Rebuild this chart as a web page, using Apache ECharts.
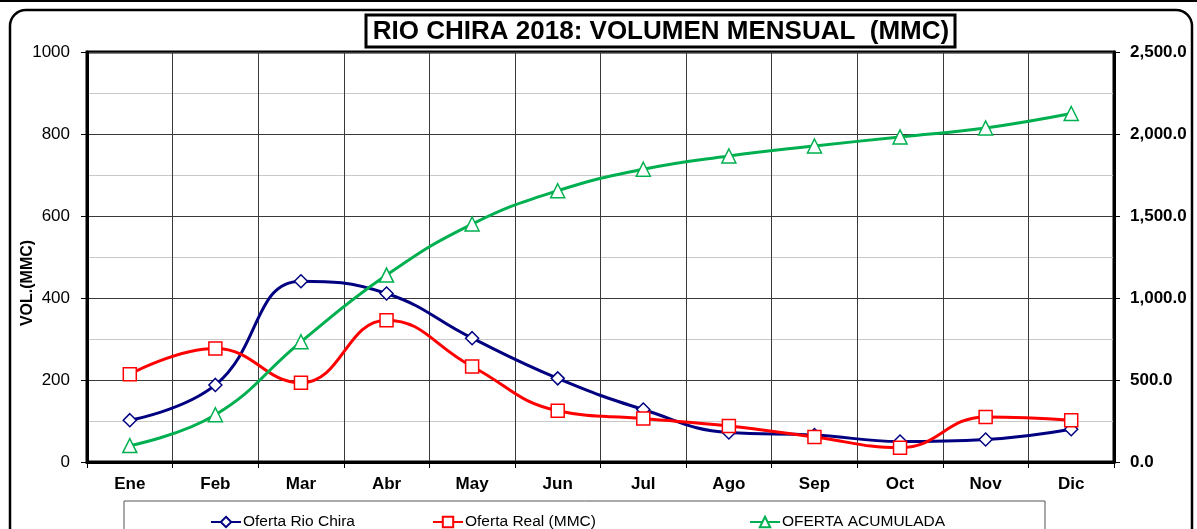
<!DOCTYPE html>
<html>
<head>
<meta charset="utf-8">
<script src="https://cdn.jsdelivr.net/npm/echarts@6/dist/echarts.min.js"></script>
<style>
  html, body { margin: 0; padding: 0; background: #fff; }
  #chart { width: 1197px; height: 529px; }
</style>
</head>
<body>
<div id="chart"></div>
<script>
const meses = ['Ene','Feb','Mar','Abr','May','Jun','Jul','Ago','Sep','Oct','Nov','Dic'];
const ofertaRio = [102, 188, 441, 411, 302, 204, 128, 72, 66, 50, 55, 80];
const ofertaReal = [214, 277, 193, 346, 233, 125, 106, 88, 61, 35, 110, 102];
const ofertaAcum = [100, 288, 733, 1140, 1451, 1654, 1785, 1866, 1927, 1982, 2037, 2125];

const font = '"Liberation Sans", Arial, sans-serif';

const chart = echarts.init(document.getElementById('chart'));

function leyenda(nombre, x) {
    return {
        data: [nombre], left: x, top: 509, itemWidth: 30, itemHeight: 13,
        textStyle: { fontFamily: font, fontSize: 15.5, color: '#000', padding: [0, 0, 0, -3] }
    };
}

chart.setOption({
    animation: false,
    textStyle: { fontFamily: font },
    graphic: [
        { type: 'line', shape: { x1: 0, y1: 1, x2: 1197, y2: 1 }, style: { stroke: '#000', lineWidth: 2 } },
        { type: 'rect', shape: { x: 10, y: 10, width: 1182, height: 600, r: 16 }, style: { fill: 'none', stroke: '#000', lineWidth: 2.5 }, z: -1 },
        { type: 'rect', shape: { x: 366, y: 15, width: 589, height: 32 }, style: { fill: '#fff', stroke: '#000', lineWidth: 3 } },
        { type: 'text', x: 661, y: 32, style: { text: 'RIO CHIRA 2018: VOLUMEN MENSUAL  (MMC)', font: 'bold 26px ' + font, fill: '#000', align: 'center', verticalAlign: 'middle' } },
        { type: 'text', x: 28, y: 283, rotation: Math.PI / 2, style: { text: 'VOL.(MMC)', font: 'bold 16px ' + font, fill: '#000', align: 'center', verticalAlign: 'middle' } },
        { type: 'rect', shape: { x: 124, y: 501, width: 921, height: 60 }, style: { fill: '#fff', stroke: '#555', lineWidth: 1 }, z: -1 }
    ],
    legend: [
        leyenda('Oferta Rio Chira', 205),
        leyenda('Oferta Real (MMC)', 427),
        leyenda('OFERTA ACUMULADA', 744)
    ],
    grid: { left: 87, right: 83, top: 52, bottom: 67, show: true, borderColor: '#000', borderWidth: 3 },
    xAxis: {
        type: 'category', data: meses, boundaryGap: true,
        axisLine: { lineStyle: { color: '#000', width: 3 } },
        axisTick: { show: true, length: 6, lineStyle: { color: '#000' } },
        axisLabel: { fontFamily: font, fontSize: 17, fontWeight: 'bold', color: '#000', margin: 14 },
        splitLine: { show: true, lineStyle: { color: '#3a3a3a', width: 1 } }
    },
    yAxis: [
        {
            type: 'value', min: 0, max: 1000, interval: 200,
            axisLine: { show: true, lineStyle: { color: '#000', width: 3 } },
            axisTick: { show: true, length: 6, lineStyle: { color: '#000' } },
            axisLabel: { fontFamily: font, fontSize: 17, color: '#000', margin: 17, formatter: v => String(v) },
            splitLine: { show: true, lineStyle: { color: '#3a3a3a', width: 1 } },
            minorTick: { show: false, splitNumber: 2 },
            minorSplitLine: { show: true, lineStyle: { color: '#c8c8c8', width: 1 } }
        },
        {
            type: 'value', min: 0, max: 2500, interval: 500, position: 'right',
            axisLine: { show: true, lineStyle: { color: '#000', width: 3 } },
            axisTick: { show: true, length: 6, lineStyle: { color: '#000' } },
            axisLabel: {
                fontFamily: font, fontSize: 17, fontWeight: 'bold', color: '#000', margin: 16,
                formatter: v => v.toLocaleString('en-US', { minimumFractionDigits: 1, maximumFractionDigits: 1 })
            },
            splitLine: { show: false }
        }
    ],
    series: [
        {
            name: 'Oferta Rio Chira', type: 'line', data: ofertaRio, smooth: 0.45,
            symbol: 'diamond', symbolSize: 13, showAllSymbol: true,
            lineStyle: { color: '#000080', width: 3 },
            itemStyle: { color: '#fff', borderColor: '#000080', borderWidth: 1.5 }
        },
        {
            name: 'Oferta Real (MMC)', type: 'line', data: ofertaReal, smooth: 0.45,
            symbol: 'rect', symbolSize: 13, showAllSymbol: true,
            lineStyle: { color: '#ff0000', width: 3 },
            itemStyle: { color: '#fff', borderColor: '#ff0000', borderWidth: 1.5 }
        },
        {
            name: 'OFERTA ACUMULADA', type: 'line', data: ofertaAcum, yAxisIndex: 1, smooth: 0.45,
            symbol: 'triangle', symbolSize: 14, showAllSymbol: true,
            lineStyle: { color: '#00b050', width: 3 },
            itemStyle: { color: '#fff', borderColor: '#00b050', borderWidth: 1.5 }
        }
    ]
});
</script>
</body>
</html>
